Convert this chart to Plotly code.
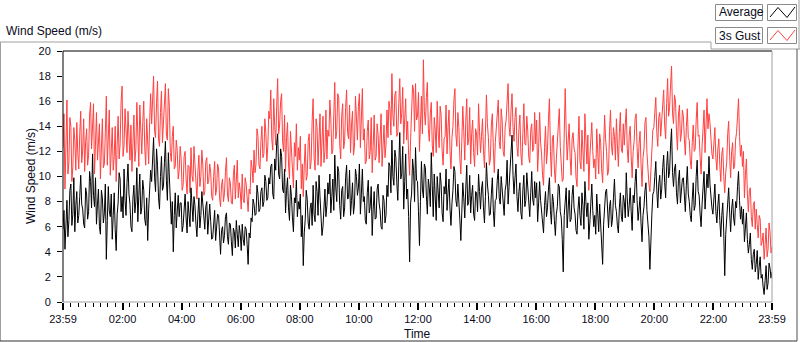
import plotly.graph_objects as go

# ---- data (one sample every 2 minutes starting 23:59) ----
sample_minutes = 2
avg = [
    5.8, 7.3, 4.2, 6.0, 8.1, 5.2, 6.5, 8.9, 9.4, 6.1, 7.0, 9.9, 5.6, 7.7, 8.8, 6.3, 6.9, 8.4, 10.1, 7.8, 7.4, 6.2, 5.9, 9.1, 8.6, 6.6, 7.2, 10.4, 9.6, 7.5,
    11.8, 8.5, 7.6, 9.9, 6.2, 7.8, 9.0, 6.0, 5.4, 8.9, 8.3, 6.3, 7.1, 9.4, 3.4, 6.5, 9.2, 7.3, 6.8, 8.6, 5.0, 6.9, 8.7, 5.8, 4.1, 7.0, 7.9, 10.3, 9.8, 7.2,
    8.4, 6.7, 10.6, 8.1, 6.9, 9.5, 11.0, 8.6, 7.8, 6.0, 5.6, 8.2, 9.3, 7.1, 8.0, 10.7, 6.4, 8.5, 10.2, 7.0, 7.5, 9.7, 8.9, 6.6, 6.1, 8.3, 4.9, 7.4, 9.0, 10.5,
    9.6, 11.4, 13.1, 9.9, 8.8, 12.2, 10.9, 8.3, 7.4, 10.0, 11.6, 8.9, 9.2, 11.1, 12.8, 9.7, 8.1, 11.9, 10.3, 7.7, 6.2, 8.0, 4.0, 6.9, 8.7, 5.9, 7.3, 8.5, 6.8, 7.9,
    7.9, 5.6, 6.1, 7.4, 8.6, 6.7, 5.5, 8.0, 7.2, 6.0, 9.1, 7.1, 6.4, 8.4, 7.7, 6.2, 5.2, 7.0, 8.3, 5.9, 6.9, 8.8, 7.5, 6.3, 5.8, 7.6, 8.0, 5.4, 6.6, 7.8,
    6.4, 5.0, 5.1, 6.6, 7.3, 4.9, 5.8, 7.0, 6.9, 5.5, 3.8, 5.7, 6.0, 4.7, 5.3, 6.8, 7.1, 5.2, 4.6, 6.3, 6.2, 4.8, 3.7, 5.9, 5.6, 4.3, 6.5, 5.4, 4.4, 6.1,
    5.4, 4.1, 6.2, 5.0, 4.5, 6.0, 5.8, 4.6, 3.0, 5.5, 5.1, 6.7, 6.4, 8.2, 7.8, 6.9, 7.0, 9.3, 8.6, 7.2, 7.4, 8.8, 9.1, 7.6, 8.0, 10.1, 9.6, 8.1, 8.3, 9.9,
    9.4, 10.8, 11.0, 8.6, 8.2, 11.4, 10.5, 12.6, 13.4, 10.2, 9.8, 12.2, 11.6, 9.0, 8.7, 10.6, 7.1, 8.9, 9.9, 7.5, 6.5, 9.3, 8.4, 6.7, 5.6, 8.3, 7.9, 9.7, 6.8, 8.0,
    7.4, 8.6, 5.2, 6.9, 2.9, 5.5, 6.6, 8.9, 8.2, 6.3, 5.8, 7.5, 7.9, 6.1, 9.3, 7.0, 6.4, 9.6, 8.8, 6.9, 10.1, 8.4, 7.2, 5.3, 6.0, 8.3, 9.0, 6.8, 7.7, 9.5,
    8.6, 10.2, 7.1, 8.4, 9.8, 7.3, 11.7, 9.1, 8.0, 10.8, 10.4, 7.7, 6.6, 8.9, 9.2, 6.8, 7.5, 9.9, 10.9, 8.2, 8.3, 10.5, 6.9, 8.1, 9.5, 7.0, 7.8, 10.6, 10.0, 8.5,
    9.1, 11.0, 7.0, 8.6, 10.6, 8.0, 8.4, 6.5, 6.2, 8.7, 9.7, 7.1, 7.6, 9.2, 5.3, 7.4, 8.8, 6.6, 6.7, 9.0, 9.4, 7.9, 7.3, 6.0, 5.8, 8.5, 8.1, 6.3, 6.9, 9.3,
    8.4, 11.1, 10.8, 8.7, 12.9, 10.0, 9.3, 12.1, 11.5, 9.5, 8.1, 10.9, 13.5, 9.8, 10.2, 12.4, 7.4, 9.6, 11.8, 8.2, 9.0, 6.8, 3.2, 7.9, 8.6, 11.4, 10.5, 8.0, 12.3, 9.7,
    9.6, 7.2, 4.5, 8.0, 11.2, 9.0, 8.3, 11.0, 10.7, 8.5, 7.0, 9.8, 9.1, 7.6, 11.9, 9.3, 6.8, 10.2, 8.8, 6.5, 10.0, 8.2, 7.5, 10.3, 9.4, 7.1, 6.4, 9.2, 8.6, 10.6,
    7.3, 8.7, 9.8, 7.4, 6.1, 7.9, 8.9, 10.8, 10.4, 8.1, 7.6, 9.4, 8.2, 6.6, 4.9, 7.8, 9.5, 8.3, 6.7, 9.0, 10.9, 7.7, 8.0, 10.1, 7.1, 8.5, 9.3, 7.0, 6.5, 8.8,
    8.7, 7.2, 10.2, 8.8, 7.4, 9.0, 9.6, 7.5, 6.3, 8.4, 11.1, 9.4, 8.5, 6.9, 7.0, 8.6, 9.9, 7.3, 6.0, 8.1, 8.2, 9.7, 10.6, 8.3, 7.8, 10.0, 9.1, 7.6, 6.9, 8.9,
    9.4, 11.3, 7.8, 9.2, 10.7, 12.0, 13.3, 10.1, 8.6, 9.9, 11.0, 8.4, 7.2, 8.8, 9.5, 7.1, 6.6, 8.9, 10.1, 7.6, 8.1, 10.3, 9.0, 7.4, 6.8, 8.7, 10.4, 8.2, 7.7, 9.6,
    8.3, 9.5, 6.4, 7.9, 9.6, 8.1, 7.1, 5.8, 5.5, 7.7, 8.8, 6.8, 7.5, 9.0, 9.9, 7.3, 6.2, 8.6, 8.0, 6.5, 5.3, 7.0, 7.6, 9.4, 9.2, 7.2, 6.7, 5.0, 2.4, 6.9,
    7.8, 9.1, 5.9, 7.2, 8.9, 6.4, 6.6, 8.5, 9.3, 7.5, 7.0, 5.7, 5.4, 7.4, 8.4, 6.9, 6.1, 8.7, 7.7, 5.8, 9.6, 8.0, 6.8, 7.9, 5.0, 6.3, 8.2, 9.4, 7.3, 6.0,
    6.9, 5.4, 8.6, 7.0, 5.6, 7.8, 6.3, 5.1, 3.0, 6.2, 7.4, 8.8, 9.0, 7.1, 5.9, 7.6, 8.1, 6.0, 6.6, 8.3, 9.8, 7.7, 7.2, 6.1, 5.5, 7.5, 8.7, 6.8, 6.4, 8.5,
    8.0, 6.7, 10.3, 8.3, 6.8, 7.7, 9.1, 7.2, 5.7, 8.5, 7.9, 9.6, 10.6, 8.1, 6.5, 7.4, 8.4, 6.3, 4.8, 6.9, 7.6, 8.9, 9.5, 7.3, 6.2, 5.2, 2.6, 5.9, 7.0, 8.6,
    8.8, 10.0, 11.2, 8.9, 7.5, 9.4, 10.1, 8.2, 9.0, 10.7, 11.7, 9.5, 8.3, 10.8, 12.0, 9.9, 10.4, 12.5, 13.8, 10.3, 9.2, 10.6, 11.0, 8.7, 7.8, 9.7, 10.5, 7.9, 8.6, 9.8,
    9.9, 8.4, 7.2, 9.3, 10.8, 8.6, 8.0, 6.9, 6.4, 8.2, 9.5, 7.3, 7.7, 10.0, 11.3, 8.8, 8.5, 7.0, 6.0, 7.8, 9.0, 10.4, 7.4, 8.9, 10.2, 9.1, 11.6, 9.4, 8.1, 7.5,
    7.0, 8.5, 9.4, 7.2, 6.3, 7.7, 8.6, 6.5, 5.2, 6.9, 7.9, 5.5, 2.1, 5.4, 6.8, 8.3, 9.1, 7.1, 5.6, 7.4, 8.2, 6.7, 6.1, 8.0, 7.5, 9.2, 10.4, 8.1, 6.6, 7.6,
    6.2, 7.4, 4.8, 5.9, 7.1, 5.0, 3.9, 4.6, 5.5, 3.4, 2.6, 3.8, 4.2, 2.4, 3.0, 4.1, 1.8, 2.8, 3.6, 1.9, 2.2, 1.2, 0.6, 1.7, 2.9, 1.0, 1.5, 3.1, 2.7, 1.9,
    2.4,
]
gust = [
    12.3, 15.0, 9.0, 11.8, 16.1, 10.2, 11.2, 14.7, 14.0, 9.6, 10.8, 13.9, 12.9, 10.5, 14.3, 11.9, 10.6, 13.4, 15.2, 11.1, 12.1, 14.6, 10.4, 12.8, 13.8, 10.9, 11.7, 14.9, 15.9, 12.2,
    13.6, 15.8, 10.2, 12.9, 15.1, 11.3, 12.4, 14.2, 9.8, 12.0, 14.6, 10.7, 11.0, 13.5, 16.4, 10.9, 12.8, 15.3, 10.1, 12.2, 13.9, 10.5, 11.6, 14.0, 9.6, 12.5, 14.8, 11.4, 12.6, 16.0,
    17.2, 11.6, 12.5, 15.4, 14.0, 11.9, 15.2, 12.8, 11.3, 14.1, 10.4, 12.6, 14.9, 11.2, 12.2, 15.9, 13.5, 10.8, 15.7, 12.9, 11.8, 14.3, 16.0, 12.3, 10.9, 14.6, 12.7, 11.0, 14.4, 16.6,
    14.2, 16.3, 18.0, 13.6, 13.1, 15.9, 17.6, 13.0, 12.4, 15.1, 16.8, 12.7, 14.5, 16.0, 17.4, 13.3, 12.9, 17.0, 15.6, 11.9, 11.2, 13.2, 14.0, 10.6, 10.8, 12.9, 12.1, 9.8, 10.5, 12.4,
    11.4, 8.9, 9.3, 11.6, 12.0, 9.8, 8.6, 10.9, 10.8, 8.7, 12.3, 10.1, 9.6, 12.4, 11.1, 9.0, 8.2, 10.4, 11.7, 9.2, 10.0, 12.1, 10.9, 8.5, 8.8, 11.2, 11.5, 9.4, 9.7, 11.0,
    10.3, 8.4, 8.1, 10.0, 11.2, 8.5, 9.0, 11.0, 10.6, 8.3, 7.6, 9.3, 9.8, 8.0, 8.7, 10.4, 11.5, 8.6, 8.0, 9.9, 9.4, 7.9, 7.8, 10.1, 10.9, 8.2, 9.6, 11.3, 8.3, 9.5,
    8.8, 7.4, 10.2, 8.2, 7.9, 9.9, 9.4, 7.7, 7.2, 9.0, 8.6, 11.3, 10.7, 9.5, 12.1, 10.3, 11.0, 13.8, 13.2, 10.9, 10.6, 12.8, 14.0, 11.5, 11.8, 14.6, 13.5, 11.2, 12.4, 15.2,
    14.6, 16.9, 13.0, 12.1, 16.2, 14.0, 12.5, 15.6, 17.8, 13.4, 14.1, 16.0, 16.6, 12.8, 12.0, 14.9, 10.4, 13.1, 14.3, 11.0, 9.8, 13.6, 12.2, 10.1, 9.1, 12.7, 11.6, 14.2, 10.5, 12.3,
    11.3, 13.2, 9.0, 11.0, 8.4, 10.9, 12.6, 9.7, 10.1, 12.8, 13.4, 10.6, 11.2, 14.4, 16.2, 11.5, 10.5, 14.6, 13.9, 10.9, 12.7, 15.0, 10.8, 12.9, 14.8, 11.1, 12.0, 15.3, 11.4, 13.7,
    13.2, 16.1, 14.6, 11.8, 12.1, 15.0, 17.5, 13.0, 13.6, 16.6, 16.3, 12.6, 11.4, 14.8, 15.8, 12.2, 12.8, 15.5, 16.9, 13.5, 13.0, 15.7, 11.9, 14.1, 15.2, 11.7, 12.4, 16.4, 14.7, 12.9,
    15.6, 16.6, 12.3, 14.4, 17.0, 12.9, 13.8, 11.0, 11.2, 13.6, 14.5, 11.4, 12.0, 14.7, 10.3, 12.4, 14.9, 11.3, 11.6, 14.2, 13.3, 11.1, 12.7, 15.0, 10.8, 12.6, 14.1, 11.5, 12.5, 15.3,
    13.1, 16.0, 15.4, 13.3, 18.2, 14.9, 14.0, 16.5, 16.8, 13.2, 13.5, 15.8, 17.8, 14.2, 15.0, 17.1, 12.6, 14.6, 16.2, 12.9, 14.4, 11.7, 10.1, 13.0, 15.6, 17.3, 16.9, 13.6, 17.4, 14.5,
    14.8, 16.7, 12.0, 13.9, 16.4, 13.4, 19.3, 15.2, 14.1, 16.3, 17.5, 13.8, 12.8, 15.0, 15.9, 12.5, 11.6, 14.7, 13.7, 11.9, 16.0, 13.5, 12.3, 15.6, 14.9, 12.1, 10.9, 13.0, 13.2, 15.7,
    11.8, 13.9, 15.3, 12.0, 10.6, 13.1, 14.0, 16.1, 17.0, 13.3, 12.4, 15.1, 13.9, 11.5, 10.2, 12.8, 15.6, 13.6, 11.3, 14.4, 16.2, 12.5, 12.9, 15.5, 11.0, 13.4, 14.5, 11.9, 10.8, 13.8,
    13.4, 11.7, 15.8, 13.6, 11.9, 13.2, 14.6, 12.1, 10.7, 13.5, 16.5, 14.2, 13.1, 10.9, 11.4, 14.1, 15.0, 12.3, 10.3, 12.7, 13.8, 15.2, 16.1, 12.8, 12.2, 15.4, 14.4, 12.0, 11.6, 13.9,
    14.5, 16.0, 17.4, 14.0, 13.2, 15.3, 16.6, 13.9, 12.8, 14.7, 15.5, 12.4, 11.6, 13.8, 14.9, 11.8, 10.9, 13.4, 15.8, 12.6, 12.5, 14.8, 13.6, 11.5, 11.1, 13.7, 14.2, 12.0, 12.3, 15.1,
    12.6, 14.5, 10.4, 12.2, 15.1, 12.7, 11.8, 10.1, 9.3, 12.3, 14.0, 11.0, 12.1, 14.6, 16.2, 12.0, 10.0, 13.1, 13.3, 10.6, 9.5, 11.4, 12.9, 14.8, 15.4, 12.4, 11.2, 9.6, 9.8, 13.0,
    17.0, 13.6, 11.3, 12.8, 14.2, 11.5, 10.1, 13.0, 13.5, 12.2, 11.9, 9.9, 9.2, 12.6, 14.8, 11.2, 10.6, 13.7, 12.4, 10.4, 15.0, 12.9, 11.0, 13.3, 8.9, 11.6, 13.1, 14.3, 12.0, 10.7,
    11.4, 9.8, 13.8, 11.9, 10.2, 13.4, 12.7, 10.6, 9.5, 12.1, 14.9, 13.0, 12.0, 10.1, 10.4, 13.6, 15.3, 12.4, 11.7, 13.9, 13.2, 11.3, 14.6, 12.5, 10.8, 13.5, 15.1, 12.2, 11.9, 14.2,
    12.5, 14.1, 15.4, 12.2, 11.1, 13.3, 14.0, 11.6, 9.9, 12.0, 12.8, 14.6, 15.0, 12.3, 10.7, 12.6, 13.6, 11.0, 9.2, 11.5, 12.2, 14.3, 14.7, 11.9, 10.5, 9.4, 8.8, 10.9, 11.8, 13.7,
    13.9, 15.2, 16.3, 13.5, 12.4, 14.7, 15.1, 13.2, 14.6, 16.2, 16.9, 14.1, 13.0, 15.8, 17.8, 14.8, 15.5, 17.3, 18.8, 15.0, 14.2, 16.5, 16.0, 13.6, 12.1, 14.9, 15.7, 12.8, 13.4, 15.3,
    14.8, 13.0, 11.7, 13.9, 15.4, 13.1, 12.9, 11.3, 10.6, 12.7, 14.1, 12.0, 12.2, 14.5, 15.9, 13.2, 13.3, 11.5, 10.2, 12.4, 14.0, 15.3, 11.9, 13.6, 16.2, 13.8, 15.0, 14.3, 12.6, 11.8,
    11.4, 13.1, 13.9, 11.5, 10.5, 12.2, 13.0, 10.9, 9.6, 11.8, 12.3, 10.0, 8.7, 10.3, 11.1, 13.4, 14.4, 11.6, 9.9, 12.0, 12.7, 10.6, 10.8, 12.9, 13.5, 14.8, 16.2, 13.2, 11.6, 12.5,
    10.8, 12.0, 8.3, 10.1, 11.4, 8.6, 7.2, 8.9, 9.1, 6.8, 6.0, 7.7, 8.0, 5.8, 7.4, 6.2, 5.1, 6.9, 6.6, 4.5, 4.8, 5.5, 3.4, 4.6, 5.9, 3.6, 4.2, 6.3, 5.6, 3.9,
    4.4,
]
tick_minutes = [0, 121, 241, 361, 481, 601, 721, 841, 961, 1081, 1201, 1321, 1440]
tick_labels = ["23:59", "02:00", "04:00", "06:00", "08:00", "10:00", "12:00",
               "14:00", "16:00", "18:00", "20:00", "22:00", "23:59"]
y_ticks = list(range(0, 21, 2))
series_names = ["Average", "3s Gust"]

# ---- layout geometry (pixels) ----
W, H = 800, 342
ML, MR, MT, MB = 63, 28, 51, 40
PW, PH = W - ML - MR, H - MT - MB


def X(px):
    return (px - ML) / PW


def Y(py):
    return (H - MB - py) / PH


minutes = [i * sample_minutes for i in range(len(avg))]
RED = "#ff4040"
FONT = "Liberation Sans"
TXT = "#0a0a20"

fig = go.Figure()
fig.add_trace(go.Scatter(x=minutes, y=gust, mode="lines", name=series_names[1],
                         line=dict(color=RED, width=1), hoverinfo="skip"))
fig.add_trace(go.Scatter(x=minutes, y=avg, mode="lines", name=series_names[0],
                         line=dict(color="black", width=1), hoverinfo="skip"))

shapes = []


def line(x0, y0, x1, y1, color, width=1):
    shapes.append(dict(type="line", xref="paper", yref="paper",
                       x0=X(x0), y0=Y(y0), x1=X(x1), y1=Y(y1),
                       line=dict(color=color, width=width), layer="above"))


# outer frame and title separator
line(0, 42, 711, 42, "#a0a0a0")
line(711, 42, 711, 49, "#a0a0a0")
line(711, 49, 800, 49, "#a0a0a0")
line(799, 0, 799, 49, "#a0a0a0")
line(0.5, 42, 0.5, 341, "#a0a0a0")
line(0, 341, 797, 341, "#303030")
line(797, 49, 797, 341, "#505050")
# plot frame
line(63, 51, 772, 51, "black")
line(63, 51, 63, 302, "black")
line(63, 302, 772, 302, "#a0a0a0")
line(772, 51, 772, 302, "#a0a0a0")

annotations = []
# legend
for i, (name, col) in enumerate(zip(series_names, ["black", RED])):
    top = 4.5 + i * 23
    shapes.append(dict(type="rect", xref="paper", yref="paper",
                       x0=X(715.5), x1=X(762.5), y0=Y(top), y1=Y(top + 16),
                       line=dict(color="#8a8a8a", width=1), fillcolor="white", layer="above"))
    shapes.append(dict(type="rect", xref="paper", yref="paper",
                       x0=X(767.5), x1=X(796.5), y0=Y(top), y1=Y(top + 16),
                       line=dict(color="#8a8a8a", width=1), fillcolor="white", layer="above"))
    pts = [(770, top + 12.5), (778, top + 3), (787, top + 13), (795, top + 2.5)]
    path = "M " + " L ".join(f"{X(px)},{Y(py)}" for px, py in pts)
    shapes.append(dict(type="path", xref="paper", yref="paper", path=path,
                       line=dict(color=col, width=1), layer="above"))
    annotations.append(dict(text=name, xref="paper", yref="paper", x=X(717), y=Y(top + 8),
                            xanchor="left", yanchor="middle", showarrow=False,
                            font=dict(family=FONT, size=12, color=TXT)))

annotations.append(dict(text="Wind Speed (m/s)", xref="paper", yref="paper",
                        x=X(4), y=Y(31), xanchor="left", yanchor="middle", showarrow=False,
                        font=dict(family=FONT, size=12, color=TXT)))
annotations.append(dict(text="Time", xref="paper", yref="paper",
                        x=X(417), y=Y(334), xanchor="center", yanchor="middle", showarrow=False,
                        font=dict(family=FONT, size=12, color=TXT)))
annotations.append(dict(text="Wind Speed (m/s)", xref="paper", yref="paper",
                        x=X(31), y=Y(176), xanchor="center", yanchor="middle", showarrow=False,
                        textangle=-90, font=dict(family=FONT, size=12, color=TXT)))

fig.update_layout(
    width=W, height=H,
    margin=dict(l=ML, r=MR, t=MT, b=MB),
    paper_bgcolor="white", plot_bgcolor="white",
    showlegend=False,
    shapes=shapes, annotations=annotations,
    font=dict(family=FONT, size=11, color=TXT),
)
fig.update_xaxes(
    range=[0, 1440], tickmode="array", tickvals=tick_minutes, ticktext=tick_labels,
    ticks="outside", ticklen=7, tickwidth=2, tickcolor="black",
    showgrid=False, zeroline=False, showline=False,
    tickfont=dict(family=FONT, size=11, color=TXT),
    minor=dict(tickmode="linear", tick0=1, dtick=15, ticks="outside", ticklen=4,
               tickwidth=1, tickcolor="black", showgrid=False),
)
fig.update_yaxes(
    range=[0, 20], tickmode="array", tickvals=y_ticks,
    ticks="outside", ticklen=5, tickwidth=1, tickcolor="black",
    showgrid=False, zeroline=False, showline=False,
    tickfont=dict(family=FONT, size=11, color=TXT), ticklabelstandoff=4,
)

fig.write_html(
    "out.html",
    config={"displayModeBar": False, "staticPlot": True},
    post_script="document.body.style.margin='0';document.body.style.overflow='hidden';",
)
